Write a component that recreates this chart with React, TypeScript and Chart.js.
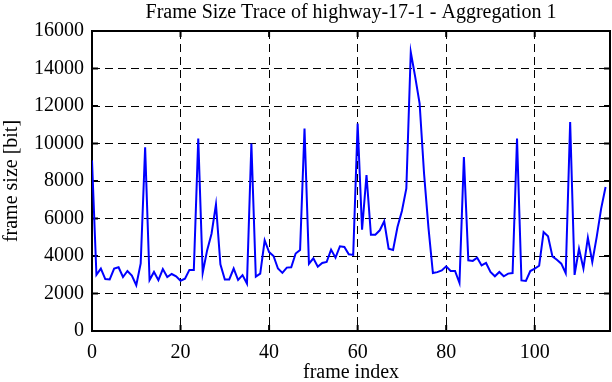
import React, { useEffect, useRef } from "react";
import { Chart, registerables } from "chart.js";

Chart.register(...registerables);

const titleText = "Frame Size Trace of highway-17-1 - Aggregation 1";
const xTitle = "frame index";
const yTitle = "frame size [bit]";

const xTicks = [0, 20, 40, 60, 80, 100];
const yTicks = [0, 2000, 4000, 6000, 8000, 10000, 12000, 14000, 16000];
const xMin = 0;
const xMax = 117;
const yMin = 0;
const yMax = 16000;

// frame size [bit] per frame index 0..116
const frameSizes = [
  9100, 3000, 3330, 2770, 2750, 3330, 3400, 2880, 3200, 2950,
  2440, 3600, 9800, 2720, 3150, 2710, 3300, 2880, 3040, 2920,
  2680, 2790, 3260, 3260, 10260, 3100, 4300, 5190, 6750, 3560,
  2750, 2750, 3330, 2720, 2980, 2530, 10000, 2900, 3060, 4840,
  4210, 4000, 3330, 3100, 3380, 3400, 4130, 4320, 10800, 3590,
  3880, 3430, 3630, 3680, 4340, 3910, 4520, 4480, 4090, 4060,
  11060, 5400, 8320, 5130, 5130, 5370, 5850, 4390, 4320, 5550,
  6400, 7600, 14880, 13550, 12130, 8400, 5500, 3090, 3140, 3230,
  3450, 3200, 3200, 2560, 9280, 3770, 3740, 3910, 3500, 3630,
  3150, 2920, 3150, 2920, 3060, 3090, 10260, 2700, 2670, 3200,
  3330, 3480, 5280, 5050, 3980, 3800, 3590, 3080, 11150, 2990,
  4390, 3330, 4980, 3680, 5020, 6530, 7680,
];
const frameIndex = frameSizes.map((_, i) => i);

const FONT = "'Liberation Serif', 'Times New Roman', serif";
const FSIZE = 20;

const framePlugin = {
  id: "gnuplotFrame",
  beforeDatasetsDraw(chart: any) {
    const { ctx, chartArea: a, scales } = chart;
    ctx.save();
    ctx.strokeStyle = "#000";
    ctx.setLineDash([]);
    ctx.lineWidth = 2;
    const t = 6;
    ctx.beginPath();
    scales.x.ticks.forEach((tk: any) => {
      const px = scales.x.getPixelForValue(tk.value);
      ctx.moveTo(px, a.bottom);
      ctx.lineTo(px, a.bottom - t);
      ctx.moveTo(px, a.top);
      ctx.lineTo(px, a.top + t);
    });
    scales.y.ticks.forEach((tk: any) => {
      const py = scales.y.getPixelForValue(tk.value);
      ctx.moveTo(a.left, py);
      ctx.lineTo(a.left + t, py);
      ctx.moveTo(a.right, py);
      ctx.lineTo(a.right - t, py);
    });
    ctx.stroke();
    ctx.strokeRect(a.left, a.top, a.right - a.left, a.bottom - a.top);
    ctx.restore();
  },
  afterDraw(chart: any) {
    const { ctx, chartArea: a } = chart;
    ctx.save();
    ctx.fillStyle = "#000";
    ctx.font = `${FSIZE}px ${FONT}`;
    ctx.textAlign = "center";
    ctx.textBaseline = "alphabetic";
    ctx.fillText(titleText, (a.left + a.right) / 2, 18);
    ctx.restore();
  },
};

export default function App() {
  const ref = useRef<HTMLCanvasElement>(null);
  useEffect(() => {
    if (!ref.current) return;
    const chart = new Chart(ref.current, {
      type: "line",
      data: {
        datasets: [
          {
            data: frameSizes.map((v, i) => ({ x: frameIndex[i], y: v })),
            borderColor: "#0000ff",
            borderWidth: 2,
            pointRadius: 0,
            tension: 0,
            fill: false,
          },
        ],
      },
      options: {
        animation: false,
        responsive: false,
        devicePixelRatio: 1,
        layout: { padding: { left: 0, right: 2, top: 31, bottom: 0 } },
        plugins: {
          legend: { display: false },
          tooltip: { enabled: false },
          title: { display: false },
        },
        scales: {
          x: {
            type: "linear",
            min: xMin,
            max: xMax,
            afterBuildTicks: (s: any) => {
              s.ticks = xTicks.map((v) => ({ value: v }));
            },
            afterFit: (s: any) => {
              s.height = 51;
            },
            grid: { color: "#000", lineWidth: 1, drawTicks: false },
            border: { display: false, dash: [8, 5] },
            ticks: {
              color: "#000",
              font: { family: FONT, size: FSIZE },
              padding: 10,
              maxRotation: 0,
            },
            title: {
              display: true,
              text: xTitle,
              color: "#000",
              font: { family: FONT, size: FSIZE },
              padding: { top: 0, bottom: -3 },
            },
          },
          y: {
            type: "linear",
            min: yMin,
            max: yMax,
            afterBuildTicks: (s: any) => {
              s.ticks = yTicks.map((v) => ({ value: v }));
            },
            afterFit: (s: any) => {
              s.width = 92;
            },
            grid: { color: "#000", lineWidth: 1, drawTicks: false },
            border: { display: false, dash: [8, 5] },
            ticks: {
              color: "#000",
              font: { family: FONT, size: FSIZE },
              padding: 8,
              callback: (v: any) => String(v),
            },
            title: {
              display: true,
              text: yTitle,
              color: "#000",
              font: { family: FONT, size: FSIZE },
              padding: { top: 0, bottom: 0 },
            },
          },
        },
      },
      plugins: [framePlugin],
    });
    return () => chart.destroy();
  }, []);
  return (
    <div style={{ position: "fixed", left: 0, top: 0 }}>
      <canvas ref={ref} width={612} height={382} style={{ display: "block" }} />
    </div>
  );
}
